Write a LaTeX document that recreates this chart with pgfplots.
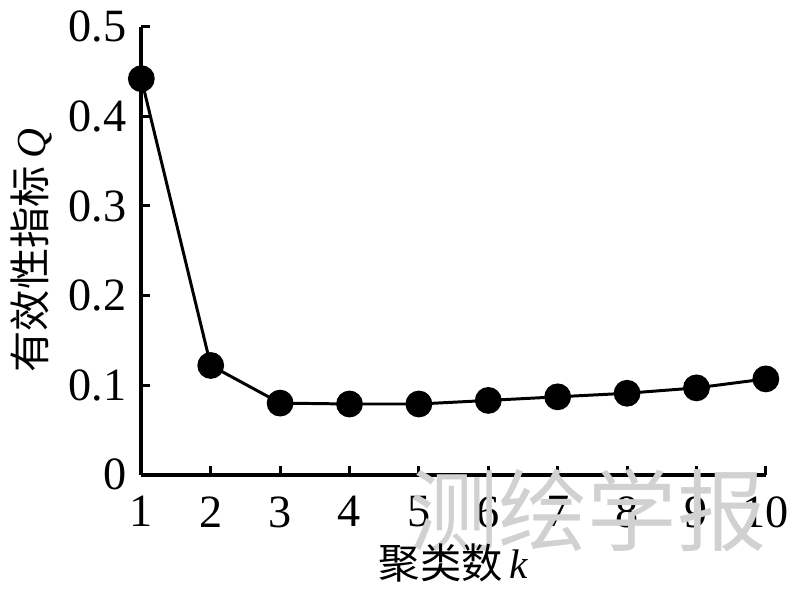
\documentclass[border=0pt]{standalone}
\usepackage{fontspec}
\setmainfont{Liberation Serif}
\newfontfamily\cjk{Noto Sans CJK SC}
\usepackage{pgfplots}
\pgfplotsset{compat=1.18}

\begin{document}
\begin{tikzpicture}
\begin{axis}[
  scale only axis,
  width=189pt, height=135.6pt,
  xmin=1, xmax=10, ymin=0, ymax=0.5,
  xtick={1,...,10},
  ytick={0,0.1,0.2,0.3,0.4,0.5},
  yticklabels={0,0.1,0.2,0.3,0.4,0.5},
  axis lines*=left,
  axis line style={line width=1.2pt, -},
  tick style={line width=0.9pt, black},
  tick align=inside,
  major tick length=2.6pt,
  ticklabel style={font=\fontsize{14}{14}\selectfont},
  /pgf/number format/assume math mode=true,
  xticklabel style={yshift=-3pt},
  yticklabel style={xshift=-1pt},
  xlabel={{\cjk 聚类数}\,\textit{k}},
  ylabel={{\cjk 有效性指标}\,\textit{Q}},
  label style={font=\fontsize{12.5}{12.5}\selectfont},
  xlabel style={yshift=2pt},
  ylabel style={yshift=-2pt},
  clip=false,
]
\node[text=black!18, font=\cjk\fontsize{27}{27}\selectfont, inner sep=0pt]
  at (rel axis cs:0.715,-0.08) {测绘学报};
\addplot[black, line width=0.9pt, mark=*, mark size=3.6pt]
  coordinates {
    (1,0.442) (2,0.122) (3,0.080) (4,0.079) (5,0.079)
    (6,0.083) (7,0.087) (8,0.091) (9,0.097) (10,0.107)
  };
\end{axis}
\end{tikzpicture}
\end{document}
